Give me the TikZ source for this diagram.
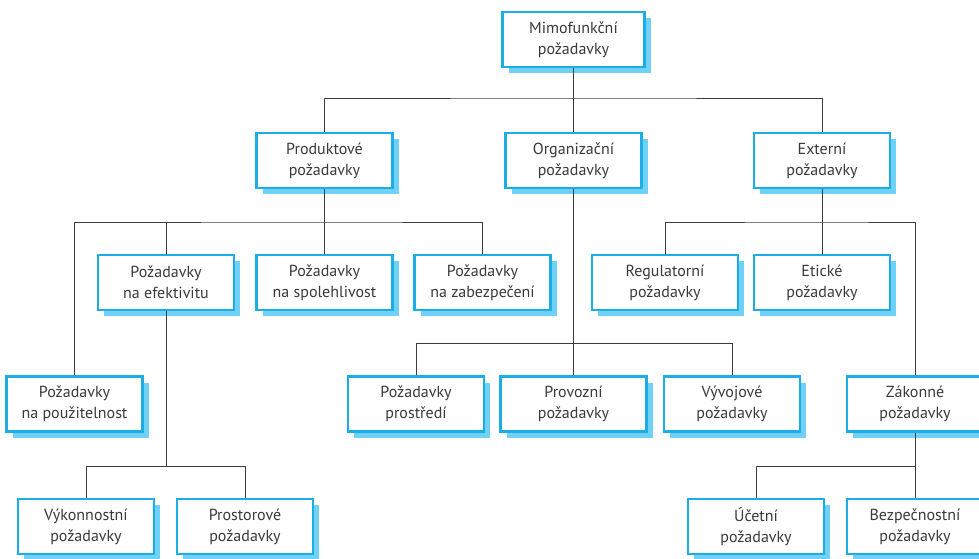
\documentclass[tikz,border=0pt]{standalone}
\usepackage{fontspec}
\setmainfont{PT Sans}
\definecolor{boxline}{HTML}{1BAEE6}
\definecolor{boxshadow}{HTML}{70D1F7}
\definecolor{ink}{HTML}{3A3A3A}
\definecolor{wire}{HTML}{3C3C3C}
\begin{document}
\begin{tikzpicture}[x=1pt,y=-1pt,
  req/.style={draw=boxline, line width=2.6pt, fill=white, text=ink,
    minimum width=136pt, minimum height=55pt, align=center, inner sep=2pt,
    font=\fontsize{16}{21}\selectfont,
    preaction={fill=boxshadow, draw=none, transform canvas={shift={(6pt,-6pt)}}}},
  wide/.style={minimum width=146pt},
  link/.style={draw=wire, line width=1pt}]
\useasboundingbox (0,0) rectangle (979,558);

% bus junctions
\coordinate (b1) at (573.5,98);
\coordinate (b2) at (324.5,222);
\coordinate (b3) at (822,222);
\coordinate (b4) at (573.5,343);
\coordinate (b5) at (166,466);
\coordinate (b6) at (915,466);

% boxes
\node[req, minimum width=142pt] (mimo) at (573.5,39.5) {Mimofunkční\\požadavky};
\node[req] (prod) at (324.5,160.5) {Produktové\\požadavky};
\node[req] (org)  at (573.5,160.5) {Organizační\\požadavky};
\node[req] (ext)  at (822,160.5) {Externí\\požadavky};

\node[req] (eff)  at (166,282.5) {Požadavky\\na efektivitu};
\node[req] (spol) at (324.5,282.5) {Požadavky\\na spolehlivost};
\node[req] (zab)  at (482.5,282.5) {Požadavky\\na zabezpečení};
\node[req, wide] (reg) at (665,282.5) {Regulatorní\\požadavky};
\node[req] (etic) at (822,282.5) {Etické\\požadavky};

\node[req] (pouz)   at (74.5,404) {Požadavky\\na použitelnost};
\node[req] (prostr) at (416,404) {Požadavky\\prostředí};
\node[req, wide] (prov) at (573.5,404) {Provozní\\požadavky};
\node[req] (vyv)    at (732,404) {Vývojové\\požadavky};
\node[req] (zak)    at (915,404) {Zákonné\\požadavky};

\node[req] (vyk)  at (86,526.5) {Výkonnostní\\požadavky};
\node[req] (pros) at (245,526.5) {Prostorové\\požadavky};
\node[req] (uc)   at (756,526.5) {Účetní\\požadavky};
\node[req] (bez)  at (915,526.5) {Bezpečnostní\\požadavky};

% connectors
\draw[link] (mimo.south) -- (org.north);
\draw[link] (prod.north) |- (b1) -| (ext.north);

\draw[link] (prod.south) -- (spol.north);
\draw[link] (pouz.north) |- (b2) -| (zab.north);
\draw[link] (eff.north) -- (eff.north |- b2);

\draw[link] (ext.south) -- (etic.north);
\draw[link] (reg.north) |- (b3) -| (zak.north);

\draw[link] (org.south) -- (prov.north);
\draw[link] (prostr.north) |- (b4) -| (vyv.north);

\draw[link] (eff.south) -- (b5);
\draw[link] (vyk.north) |- (b5) -| (pros.north);

\draw[link] (zak.south) -- (bez.north);
\draw[link] (uc.north) |- (b6) -| (bez.north);
\end{tikzpicture}
\end{document}
